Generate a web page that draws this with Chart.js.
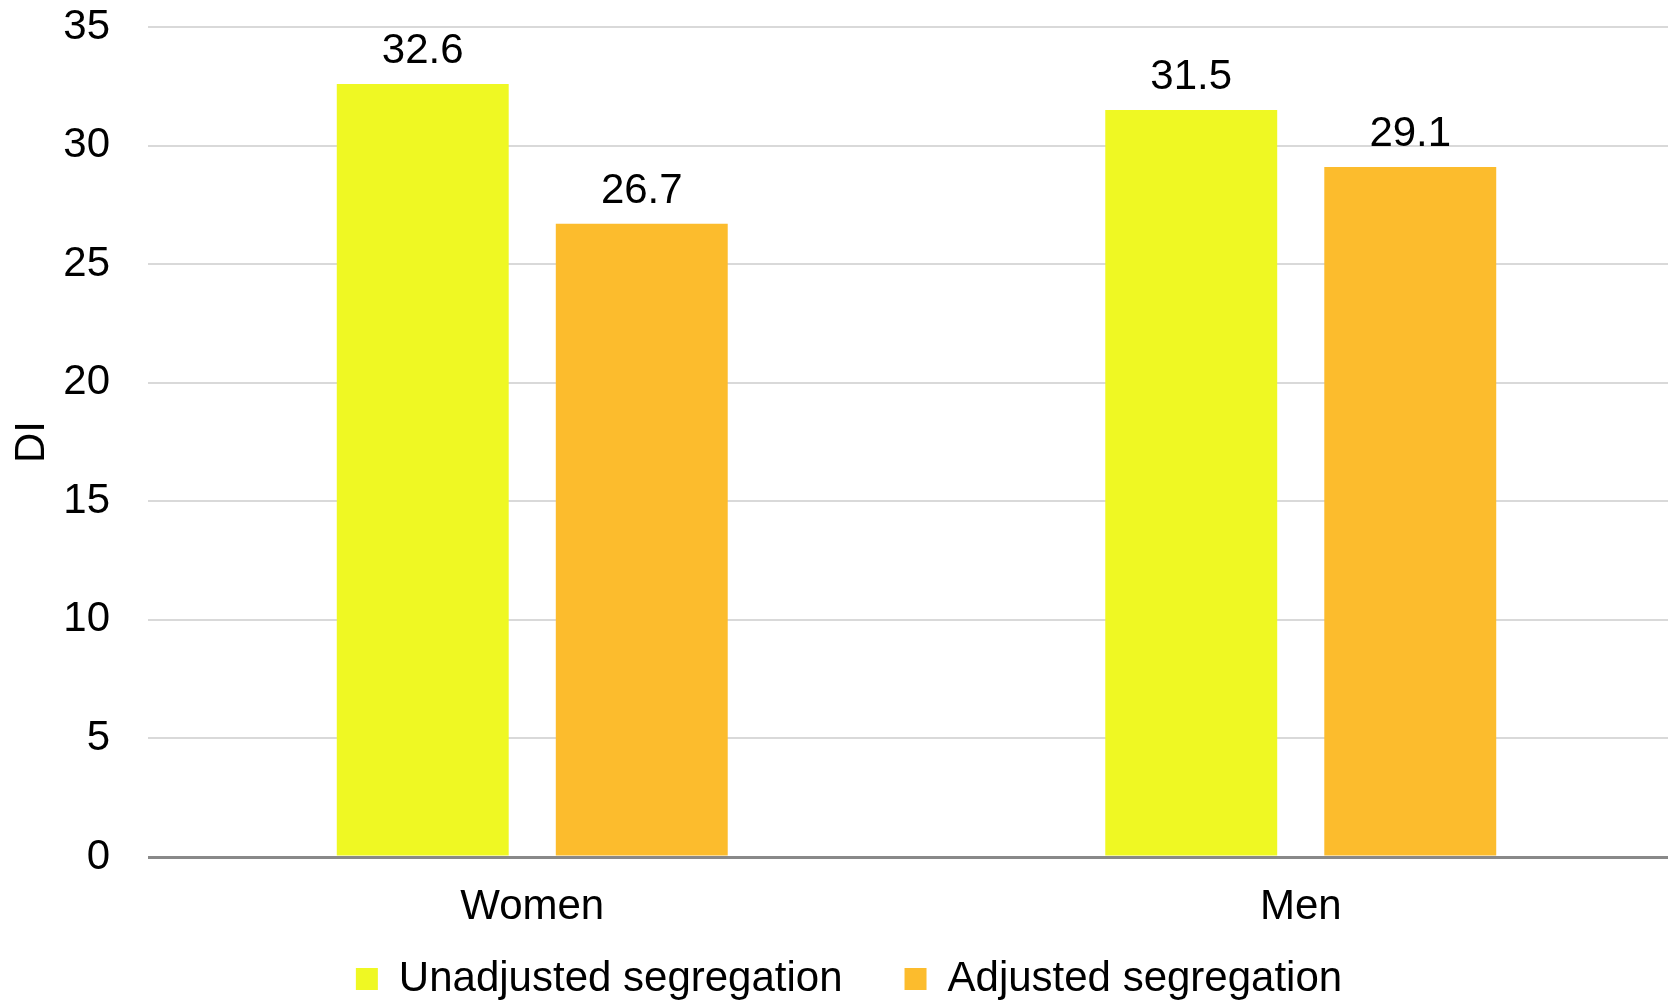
<!DOCTYPE html>
<html>
<head>
<meta charset="utf-8">
<script src="https://cdn.jsdelivr.net/npm/chart.js@4/dist/chart.umd.min.js"></script>
<style>
  html, body { margin: 0; padding: 0; background: #fff; overflow: hidden; }
  #wrap { width: 1690px; height: 1001px; }
</style>
</head>
<body>
<div id="wrap"><canvas id="chart"></canvas></div>
<script>
const categories = ['Women', 'Men'];
const unadjusted = [32.6, 31.5];
const adjusted = [26.7, 29.1];
const yTicks = [0, 5, 10, 15, 20, 25, 30, 35];

const FONT = '"Liberation Sans", Arial, sans-serif';

// value labels above each bar
const valueLabels = {
  id: 'valueLabels',
  afterDatasetsDraw(chart) {
    const ctx = chart.ctx;
    ctx.save();
    ctx.font = '42px ' + FONT;
    ctx.fillStyle = '#000';
    ctx.textAlign = 'center';
    ctx.textBaseline = 'alphabetic';
    chart.data.datasets.forEach((ds, i) => {
      chart.getDatasetMeta(i).data.forEach((bar, j) => {
        ctx.fillText(ds.data[j].toFixed(1), bar.x, bar.y - 21);
      });
    });
    ctx.restore();
  }
};

new Chart(document.getElementById('chart'), {
  type: 'bar',
  data: {
    labels: categories,
    datasets: [
      { label: 'Unadjusted segregation', data: unadjusted, backgroundColor: '#EFF823' },
      { label: 'Adjusted segregation', data: adjusted, backgroundColor: '#FCBC2D' }
    ]
  },
  options: {
    responsive: true,
    maintainAspectRatio: false,
    animation: false,
    categoryPercentage: 0.57,
    barPercentage: 0.785,
    layout: { padding: { top: 27, right: 5, bottom: -9, left: 13 } },
    plugins: {
      tooltip: { enabled: false },
      legend: {
        position: 'bottom',
        labels: {
          boxWidth: 22,
          boxHeight: 22,
          padding: 62,
          color: '#000',
          font: { family: FONT, size: 42 }
        }
      }
    },
    scales: {
      x: {
        afterFit(scale) {
          scale.height = 39;
          // labels sit lower than the squeezed box, so don't clip them
          scale._computeLabelArea = () => undefined;
        },
        grid: { display: false, drawTicks: false },
        border: { display: false },
        ticks: { color: '#000', padding: 25, font: { family: FONT, size: 42 } }
      },
      y: {
        min: 0,
        max: 35,
        afterBuildTicks(scale) { scale.ticks = yTicks.map(v => ({ value: v })); },
        afterFit(scale) { scale.width = 135; },
        border: { display: false },
        grid: {
          drawTicks: true,
          tickLength: 38,
          tickColor: 'rgba(0,0,0,0)',
          color: c => c.tick && c.tick.value === 0 ? '#898989' : '#d9d9d9',
          lineWidth: c => c.tick && c.tick.value === 0 ? 3 : 2
        },
        ticks: { color: '#000', padding: 0, font: { family: FONT, size: 42 } },
        title: {
          display: true,
          text: 'DI',
          color: '#000',
          padding: { top: -6, bottom: 0 },
          font: { family: FONT, size: 42 }
        }
      }
    }
  },
  plugins: [valueLabels]
});
</script>
</body>
</html>
